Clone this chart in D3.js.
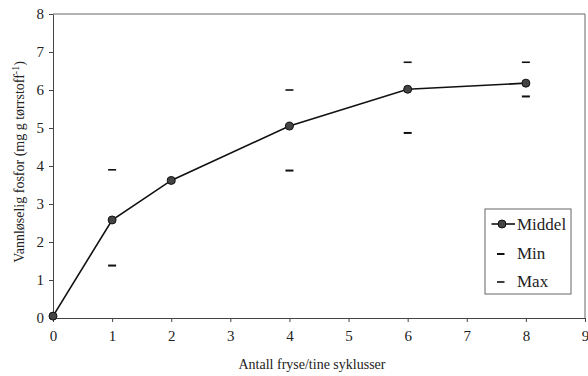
<!DOCTYPE html>
<html>
<head>
<meta charset="utf-8">
<script src="https://cdn.jsdelivr.net/npm/d3@7"></script>
<style>
  body { margin: 0; background: #fff; }
</style>
</head>
<body>
<script>
var width = 588,
    height = 376;

// data
var cycles = [0, 1, 2, 4, 6, 8];
var middel = [0.05, 2.58, 3.62, 5.05, 6.02, 6.18];
var minVals = [null, 1.38, 3.58, 3.88, 4.87, 5.83];
var maxVals = [null, 3.9, 3.66, 6.0, 6.73, 6.73];
var xTicks = [0, 1, 2, 3, 4, 5, 6, 7, 8, 9];
var yTicks = [0, 1, 2, 3, 4, 5, 6, 7, 8];

var serif = "'Liberation Serif'";
var margin = {left: 53, right: 3, top: 14, bottom: 58};

var svg = d3.select("body").append("svg")
    .attr("width", width)
    .attr("height", height)
    .style("font-family", serif);

var x = d3.scaleLinear().domain([0, 9]).range([margin.left, width - margin.right]);
var y = d3.scaleLinear().domain([0, 8]).range([height - margin.bottom, margin.top]);

// frame (top and right)
svg.append("path")
    .attr("d", "M" + x(0) + "," + y(8) + "H" + x(9) + "V" + y(0))
    .attr("fill", "none")
    .attr("stroke", "#666")
    .attr("stroke-width", 1);

var xAxis = svg.append("g")
    .attr("transform", "translate(0," + y(0) + ")")
    .call(d3.axisBottom(x).tickValues(xTicks).tickSize(4).tickPadding(8).tickSizeOuter(0));

var yAxis = svg.append("g")
    .attr("transform", "translate(" + x(0) + ",0)")
    .call(d3.axisLeft(y).tickValues(yTicks).tickSize(4).tickPadding(5).tickSizeOuter(0));

svg.selectAll(".domain, .tick line").attr("stroke", "#444");
svg.selectAll(".tick text")
    .attr("fill", "#222")
    .style("font-family", serif)
    .style("font-size", "15px");

// axis titles
svg.append("text")
    .attr("x", 312)
    .attr("y", 369)
    .attr("text-anchor", "middle")
    .attr("fill", "#222")
    .style("font-family", serif)
    .style("font-size", "14px")
    .text("Antall fryse/tine syklusser");

var yt = svg.append("text")
    .attr("transform", "translate(24,162) rotate(-90)")
    .attr("text-anchor", "middle")
    .attr("fill", "#222")
    .style("font-family", serif)
    .style("font-size", "14px");
yt.append("tspan").text("Vannløselig fosfor (mg g tørrstoff");
yt.append("tspan").attr("dy", -5).style("font-size", "10px").text("-1");
yt.append("tspan").attr("dy", 5).text(")");

// min / max dashes
var dashW = 8;
svg.append("g").selectAll("line")
    .data(cycles.map(function (c, i) { return {c: c, v: minVals[i]}; }).filter(function (d) { return d.v != null; }))
    .enter().append("line")
    .attr("x1", function (d) { return x(d.c) - dashW / 2; })
    .attr("x2", function (d) { return x(d.c) + dashW / 2; })
    .attr("y1", function (d) { return y(d.v); })
    .attr("y2", function (d) { return y(d.v); })
    .attr("stroke", "#111")
    .attr("stroke-width", 2);

svg.append("g").selectAll("line")
    .data(cycles.map(function (c, i) { return {c: c, v: maxVals[i]}; }).filter(function (d) { return d.v != null; }))
    .enter().append("line")
    .attr("x1", function (d) { return x(d.c) - dashW / 2; })
    .attr("x2", function (d) { return x(d.c) + dashW / 2; })
    .attr("y1", function (d) { return y(d.v); })
    .attr("y2", function (d) { return y(d.v); })
    .attr("stroke", "#111")
    .attr("stroke-width", 1.6);

// mean line
var line = d3.line()
    .x(function (d, i) { return x(cycles[i]); })
    .y(function (d) { return y(d); });

svg.append("path")
    .datum(middel)
    .attr("d", line)
    .attr("fill", "none")
    .attr("stroke", "#111")
    .attr("stroke-width", 1.6);

svg.append("g").selectAll("circle")
    .data(middel)
    .enter().append("circle")
    .attr("cx", function (d, i) { return x(cycles[i]); })
    .attr("cy", function (d) { return y(d); })
    .attr("r", 4)
    .attr("fill", "#444")
    .attr("stroke", "#111")
    .attr("stroke-width", 1);

// legend
var lg = svg.append("g").attr("transform", "translate(485,209)");
lg.append("rect")
    .attr("width", 86)
    .attr("height", 85)
    .attr("fill", "#fff")
    .attr("stroke", "#666");

lg.append("line").attr("x1", 6.5).attr("x2", 30).attr("y1", 15).attr("y2", 15)
    .attr("stroke", "#111").attr("stroke-width", 1.6);
lg.append("circle").attr("cx", 17).attr("cy", 15).attr("r", 4)
    .attr("fill", "#444").attr("stroke", "#111");
lg.append("line").attr("x1", 12).attr("x2", 19.5).attr("y1", 45).attr("y2", 45)
    .attr("stroke", "#111").attr("stroke-width", 2);
lg.append("line").attr("x1", 12).attr("x2", 19.5).attr("y1", 73).attr("y2", 73)
    .attr("stroke", "#111").attr("stroke-width", 1.6);

var labels = ["Middel", "Min", "Max"];
lg.selectAll("text.lab")
    .data(labels)
    .enter().append("text")
    .attr("class", "lab")
    .attr("x", 32)
    .attr("y", function (d, i) { return 21 + i * 28.5; })
    .attr("fill", "#222")
    .style("font-family", serif)
    .style("font-size", "17px")
    .text(function (d) { return d; });
</script>
</body>
</html>
